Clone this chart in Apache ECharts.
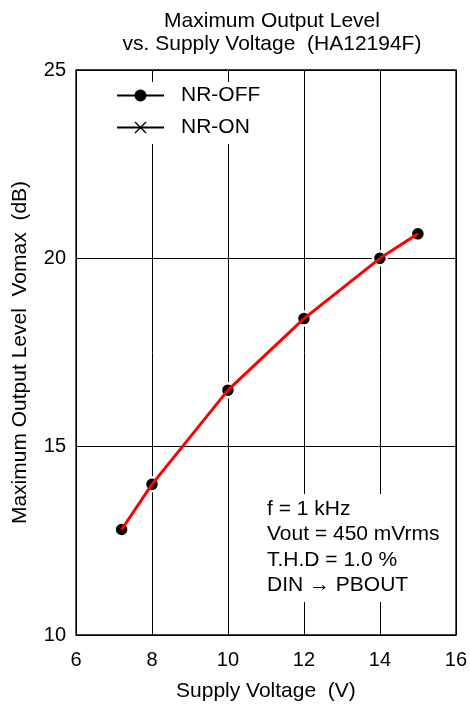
<!DOCTYPE html>
<html><head><meta charset="utf-8">
<script src="https://cdn.jsdelivr.net/npm/echarts@6/dist/echarts.min.js"></script>
<style>html,body{margin:0;padding:0;background:#fff}#c{width:470px;height:708px}</style>
</head><body><div id="c"></div>
<script>
var voltages = [7.2, 8, 10, 12, 14, 15];
var nrOff = [12.8, 14.0, 16.5, 18.4, 20.0, 20.65];
var nrOn = [12.8, 14.0, 16.5, 18.4, 20.0, 20.65];
var xTicks = [6, 8, 10, 12, 14, 16];
var yTicks = [10, 15, 20, 25];
var notes = ['f = 1 kHz', 'Vout = 450 mVrms', 'T.H.D = 1.0 %', 'DIN \u2192 PBOUT'];

var F = 'Liberation Sans, Arial, sans-serif';
var crossPath = 'path://M0,0.8L0.8,0L5,4.2L9.2,0L10,0.8L5.8,5L10,9.2L9.2,10L5,5.8L0.8,10L0,9.2L4.2,5Z';
function pairs(v){ return voltages.map(function(x,i){ return [x, v[i]]; }); }
function segments(v){
  var out = [];
  for (var i = 1; i < voltages.length; i++) {
    out.push({coords: [[voltages[i-1], v[i-1]], [voltages[i], v[i]]]});
  }
  return out;
}

var chart = echarts.init(document.getElementById('c'));
chart.setOption({
  animation: false,
  backgroundColor: '#fff',
  title: {
    text: 'Maximum Output Level\nvs. Supply Voltage  (HA12194F)',
    left: 267, top: 4, textAlign: 'center',
    textStyle: {fontFamily: F, fontSize: 21, fontWeight: 'normal', color: '#000', lineHeight: 23.5}
  },
  grid: {left: 76, right: 14, top: 70, bottom: 73},
  legend: {
    left: 112, top: 82, orient: 'vertical', itemWidth: 47, itemHeight: 15, itemGap: 11,
    backgroundColor: '#fff', padding: [3, 8, 6, 4],
    itemStyle: {borderWidth: 0},
    textStyle: {fontFamily: F, fontSize: 21, color: '#000', padding: [0, 0, 0, 12]},
    data: ['NR-OFF', 'NR-ON']
  },
  xAxis: {
    type: 'value', min: 6, max: 16, interval: 2,
    name: 'Supply Voltage  (V)', nameLocation: 'middle', nameGap: 46,
    nameTextStyle: {fontFamily: F, fontSize: 21, color: '#000'},
    axisLine: {show: false}, axisTick: {show: false},
    axisLabel: {fontFamily: F, fontSize: 20, color: '#000', margin: 15,
      formatter: function(v){ return xTicks.indexOf(v) >= 0 ? String(v) : ''; }},
    splitLine: {show: true, lineStyle: {color: '#000', width: 1}}
  },
  yAxis: {
    type: 'value', min: 10, max: 25, interval: 5,
    name: 'Maximum Output Level  Vomax  (dB)', nameLocation: 'middle', nameGap: 45,
    nameTextStyle: {fontFamily: F, fontSize: 21, color: '#000'},
    axisLine: {show: false}, axisTick: {show: false},
    axisLabel: {fontFamily: F, fontSize: 20, color: '#000', margin: 10,
      formatter: function(v){ return yTicks.indexOf(v) >= 0 ? String(v) : ''; }},
    splitLine: {show: true, lineStyle: {color: '#000', width: 1}}
  },
  graphic: [
    {type: 'rect', shape: {x: 76, y: 70, width: 380, height: 565}, z: 50, silent: true,
      style: {fill: 'none', stroke: '#000', lineWidth: 1.3}},
    {type: 'text', left: 262, top: 494, z: 60,
      style: {text: notes.join('\n'), font: '21px ' + F, fill: '#000', lineHeight: 25.5,
        backgroundColor: '#fff', padding: [2, 6, 4, 5]}}
  ],
  series: [
    {name: 'NR-ON', type: 'line', data: pairs(nrOn), symbol: crossPath, symbolSize: 12,
      clip: false, smooth: false, lineStyle: {color: '#000', width: 1.5}, itemStyle: {color: '#000'}, z: 3},
    {name: 'NR-OFF', type: 'line', data: pairs(nrOff), symbol: 'circle', symbolSize: 14,
      clip: false, smooth: false, lineStyle: {color: '#000', width: 1.5},
      itemStyle: {color: '#000', borderColor: '#fff', borderWidth: 2.5}, z: 4},
    {name: 'NR-OFF-segments', type: 'lines', coordinateSystem: 'cartesian2d',
      data: segments(nrOff), silent: true, z: 100,
      lineStyle: {color: '#ff0000', width: 3, opacity: 1, curveness: 0}}
  ]
});
</script></body></html>
